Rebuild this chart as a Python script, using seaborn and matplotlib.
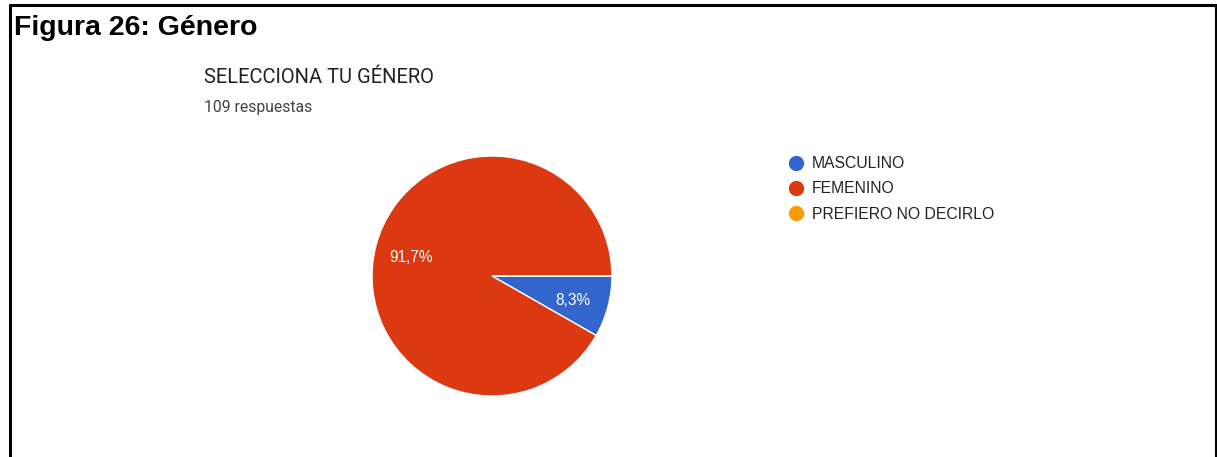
import matplotlib
matplotlib.use("Agg")
import matplotlib.pyplot as plt
from matplotlib.lines import Line2D
import seaborn as sns

# ---- data ----
categories = ["MASCULINO", "FEMENINO", "PREFIERO NO DECIRLO"]
counts = [9, 100, 0]
colors = ["#3366CC", "#DC3912", "#FF9900"]
fig_title = "Figura 26: Género"
chart_title = "SELECCIONA TU GÉNERO"
subtitle = "109 respuestas"

sns.set_theme(style="white")
plt.rcParams['font.family'] = ['Roboto', 'DejaVu Sans']
ARIAL = ["Liberation Sans", "DejaVu Sans"]

W, H = 1217, 457
fig = plt.figure(figsize=(W / 100, H / 100), dpi=100)
fig.patch.set_facecolor("white")

# border (top, left, right)
border = dict(color="black", linewidth=2.2, transform=fig.transFigure, clip_on=False)
fig.add_artist(Line2D([10 / W, 1216 / W], [1 - 5 / H, 1 - 5 / H], **border))
fig.add_artist(Line2D([10 / W, 10 / W], [0, 1 - 5 / H], **border))
fig.add_artist(Line2D([1215.5 / W, 1215.5 / W], [0, 1 - 5 / H], **border))

fig.text(14 / W, 1 - 35 / H, fig_title, fontsize=20.5, fontweight="bold",
         family=ARIAL, color="black", va="baseline")
fig.text(204 / W, 1 - 83 / H, chart_title, fontsize=14.5, color="#212121", va="baseline")
fig.text(204 / W, 1 - 112 / H, subtitle, fontsize=11.3, color="#424242", va="baseline")

# pie
cx, cy, r = 492, 276, 120
ax = fig.add_axes([(cx - r) / W, (H - cy - r) / H, 2 * r / W, 2 * r / H])


def fmt(p):
    return "" if p < 0.05 else f"{p:.1f}%".replace(".", ",")


wedges, texts, autotexts = ax.pie(
    counts, colors=colors, startangle=0, counterclock=False,
    autopct=fmt, pctdistance=0.7, radius=1,
    wedgeprops=dict(edgecolor="white", linewidth=1),
    textprops=dict(color="white", fontsize=11.2, family=ARIAL))
for t in autotexts:
    x, y = t.get_position()
    t.set_position((x, y - 0.025))
ax.set_xlim(-1, 1)
ax.set_ylim(-1, 1)
ax.set_aspect("equal")
ax.axis("off")

# legend
handles = [Line2D([0], [0], marker="o", linestyle="", markersize=10,
                  markerfacecolor=c, markeredgecolor=c) for c in colors]
leg = fig.legend(handles, categories, loc="upper left",
                 bbox_to_anchor=(789 / W, 1 - 156 / H), frameon=False,
                 prop=dict(family=ARIAL, size=11.3), handlelength=0.9,
                 handletextpad=0.55, labelspacing=0.66, borderaxespad=0, borderpad=0)
for t in leg.get_texts():
    t.set_color("#222222")

fig.savefig("out.png", dpi=100, facecolor="white")
